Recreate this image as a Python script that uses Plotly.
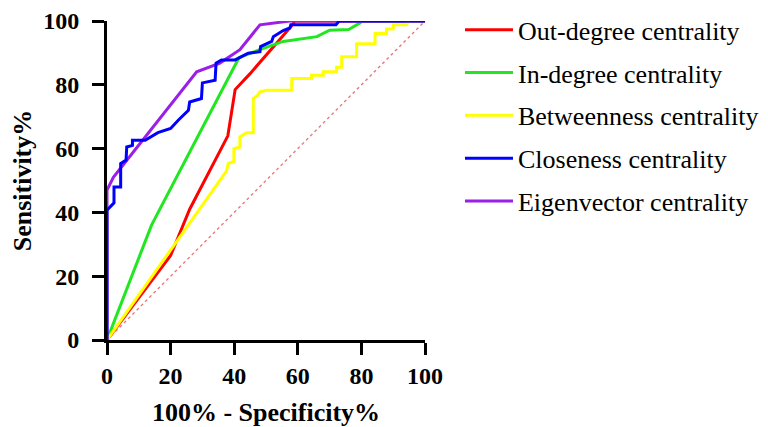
import plotly.graph_objects as go

# ---- data ----
series_names = ["Out-degree centrality", "In-degree centrality", "Betweenness centrality",
                "Closeness centrality", "Eigenvector centrality"]
series_colors = ["#ff0000", "#22e622", "#ffff00", "#0000ff", "#9b1fe8"]

out_x = [0, 20, 26, 38, 40.3, 45, 58.5, 59, 100]
out_y = [0, 26.5, 41, 64, 78.5, 83.5, 99, 100, 100]

in_x = [0, 14, 41.5, 44, 48, 55.4, 66, 70, 76, 79.6, 80, 100]
in_y = [0, 36, 88.5, 89.5, 91, 93.6, 95.1, 97.1, 97.3, 99.4, 100, 100]

btw_x = [0, 37.6, 38.1, 39.9, 39.9, 41.8, 41.8, 43.9, 46, 46, 47.5, 48.1, 50.2, 58.1, 58.1,
         64.3, 64.3, 68, 68, 72.2, 72.2, 73.8, 73.8, 78.5, 78.5, 84.3, 84.3, 87.9, 87.9,
         90, 90, 94.2, 95, 100]
btw_y = [0, 53, 55.3, 56, 60, 60.5, 63.7, 65, 65, 75.7, 76.8, 77.8, 78.3, 78.3, 82,
         82, 83, 83, 84.1, 84.1, 85.5, 85.5, 88.8, 88.8, 92.9, 92.9, 96.1, 96.1, 97.5,
         97.5, 98.8, 98.8, 100, 100]

clo_x = [0, 0, 2.2, 2.2, 4.3, 4.3, 6, 6.2, 8, 8, 12, 16, 20, 22.4, 25.6, 26, 29.7, 30,
         34, 34.3, 36, 40.3, 44.4, 48.1, 48.3, 51.8, 52.3, 55.4, 57.5, 57.8, 72, 73, 100]
clo_y = [0, 40.7, 43, 48, 48, 55.3, 56.4, 60.5, 61, 62.6, 62.6, 65, 66.3, 68.9, 72, 74.6,
         75.7, 80.6, 81.4, 86.8, 87.8, 87.8, 89.9, 90.4, 92, 93.6, 95.1, 97, 97.8, 98.8,
         98.8, 100, 100]

eig_x = [0, 0, 2, 28.2, 35.5, 41.8, 48.1, 57.5, 100]
eig_y = [0, 47, 51, 84.1, 86.8, 91, 98.8, 100, 100]

ref_x = [0, 100]
ref_y = [0, 100]

xticks = [0, 20, 40, 60, 80, 100]
yticks = [0, 20, 40, 60, 80, 100]

xs = [out_x, in_x, btw_x, clo_x, eig_x]
ys = [out_y, in_y, btw_y, clo_y, eig_y]

fig = go.Figure()

# reference diagonal
fig.add_trace(go.Scatter(x=ref_x, y=ref_y, mode="lines", showlegend=False,
                         line=dict(color="#f07070", width=1.3, dash="dot"),
                         hoverinfo="skip"))

draw_order = [0, 1, 2, 4, 3]
for i in draw_order:
    fig.add_trace(go.Scatter(
        x=xs[i], y=ys[i], mode="lines", name=series_names[i],
        line=dict(color=series_colors[i], width=3),
        legendgroup=f"g{i}", legendrank=i + 1,
    ))

serif = "Liberation Serif, Times New Roman, serif"
fig.update_layout(
    width=760, height=419,
    margin=dict(l=99, r=343, t=13, b=87, autoexpand=False),
    paper_bgcolor="white", plot_bgcolor="white",
    font=dict(family=serif, color="black"),
    legend=dict(x=1.11, xanchor="left", y=1.046, yanchor="top",
                font=dict(family=serif, size=26, color="black"),
                tracegroupgap=6, itemwidth=48, maxheight=1.0,
                bgcolor="rgba(0,0,0,0)"),
    xaxis=dict(range=[0, 100], tickvals=xticks, ticks="outside", ticklen=12, tickwidth=3,
               tickcolor="black", showline=True, linewidth=3, linecolor="black",
               showgrid=False, zeroline=False, automargin=False,
               tickfont=dict(family=serif, size=24, color="black", weight="bold"),
               title=dict(text="<b>100% - Specificity%</b>", font=dict(family=serif, size=26),
                          standoff=22)),
    yaxis=dict(range=[0, 100], tickvals=yticks, ticks="outside", ticklen=12, tickwidth=3,
               tickcolor="black", showline=True, linewidth=3, linecolor="black",
               showgrid=False, zeroline=False, automargin=False, ticklabelstandoff=8,
               tickfont=dict(family=serif, size=24, color="black", weight="bold"),
               title=dict(text="<b>Sensitivity%</b>", font=dict(family=serif, size=26),
                          standoff=10)),
)

fig.write_html("out.html")
